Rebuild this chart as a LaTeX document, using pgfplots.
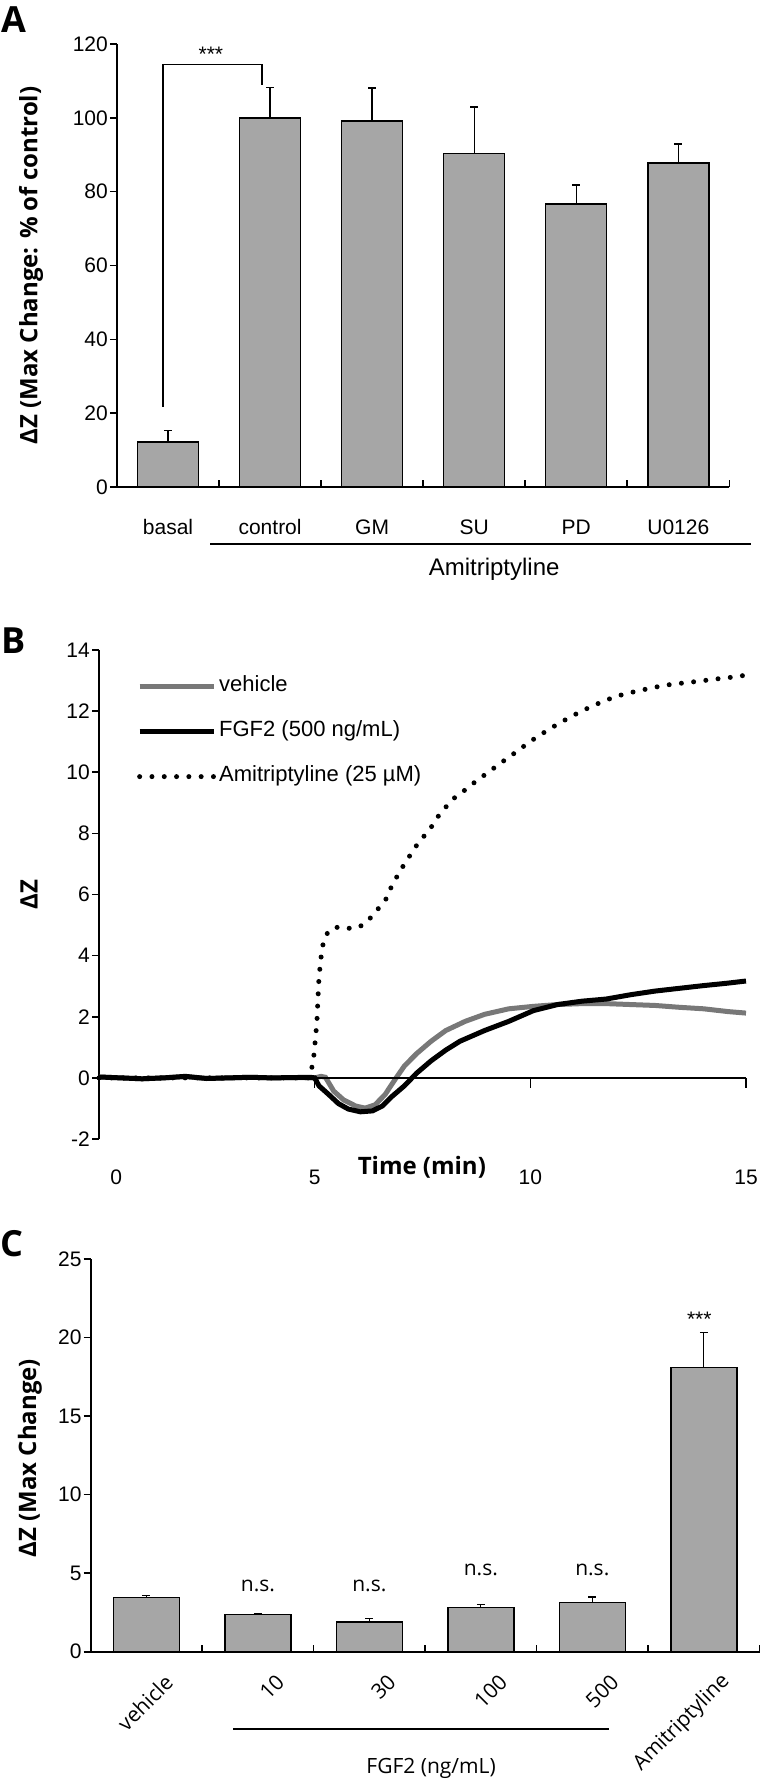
\documentclass[border=0pt]{standalone}
\usepackage{fontspec}
\setmainfont{Liberation Sans}
\newfontfamily\osf{Open Sans}
\usepackage{pgfplots}
\pgfplotsset{compat=1.18}
\definecolor{barg}{RGB}{166,166,166}
\definecolor{vehg}{RGB}{120,120,120}
\newcommand{\tf}{\fontsize{21pt}{25pt}\selectfont}
\newcommand{\lf}{\osf\bfseries\fontsize{24pt}{28pt}\selectfont}
\newcommand{\of}{\osf\fontsize{21pt}{25pt}\selectfont}
\newcommand{\pf}{\osf\bfseries\fontsize{36pt}{40pt}\selectfont}
\newcommand{\gf}{\fontsize{22pt}{26pt}\selectfont}
\pgfplotsset{
  myax/.style={scale only axis, clip=false,
    axis line style={line width=1.6pt},
    tick style={line width=1.6pt, black},
    major tick length=7pt, tick align=outside,
    /pgf/number format/assume math mode=true,
    tick label style={font=\tf},
    yticklabel style={inner sep=0pt, xshift=-2pt},
    axis x line*=bottom, axis y line*=left,
    xtick style={draw=none}},
  mybar/.style={ybar, bar width=#1, fill=barg, draw=black, line width=1.5pt,
    error bars/.cd, y dir=plus, y explicit,
    error bar style={line width=1.3pt, black},
    error mark=-, error mark options={rotate=90, line width=1.3pt, black, mark size=4pt}}
}
\begin{document}
\begin{tikzpicture}[x=1pt,y=1pt]
\useasboundingbox (0,0) rectangle (760,-1784);
% panel letters
\node[font=\pf, anchor=base west, inner sep=0pt] at (1,-33) {A};
\node[font=\pf, anchor=base west, inner sep=0pt] at (1,-653) {B};
\node[font=\pf, anchor=base west, inner sep=0pt] at (0,-1256) {C};

% ---------------- Panel A ----------------
\begin{axis}[myax, at={(117pt,-487pt)}, anchor=south west,
  width=612.3pt, height=443pt,
  xmin=-0.5, xmax=5.5, ymin=0, ymax=120,
  ytick={0,20,...,120},
  xtick={0,...,5}, xticklabels={basal,control,GM,SU,PD,U0126},
  xticklabel style={anchor=base, inner sep=0pt, yshift=-40pt},
  ylabel={ΔZ (Max Change: \% of control)},
  ylabel style={font=\lf, at={(rel axis cs:-0.1405,0.5)}, anchor=center},
  xlabel={Amitriptyline},
  xlabel style={font=\fontsize{24pt}{28pt}\selectfont, at={(rel axis cs:0.616,-0.185)}, anchor=center}]
\addplot[mybar=61pt] coordinates {
 (0,12.2) +- (0,3.2)
 (1,100.0) +- (0,8.2)
 (2,99.2) +- (0,8.9)
 (3,90.4) +- (0,12.5)
 (4,76.7) +- (0,5.1)
 (5,87.7) +- (0,5.2)
};
\pgfplotsinvokeforeach{0.5,1.5,2.5,3.5,4.5,5.5}{\draw[line width=1.6pt] (axis cs:#1,0) -- ++(0pt,7pt);}
\draw[line width=1.3pt] (axis cs:-0.05,21.7) -- (axis cs:-0.05,114.4) -- (axis cs:0.92,114.4) -- (axis cs:0.92,109);
\node[font=\tf, inner sep=0pt] at (axis cs:0.42,117.3) {***};
\draw[line width=1.6pt] (rel axis cs:0.152,-0.1287) -- (rel axis cs:1.035,-0.1287);
\end{axis}

% ---------------- Panel B ----------------
\begin{axis}[myax, at={(99pt,-1139pt)}, anchor=south west,
  width=647pt, height=489pt,
  xmin=0, xmax=15, ymin=-2, ymax=14,
  ytick={-2,0,...,14},
  x axis line style={draw=none},
  xtick={0.4,5,10,15}, xticklabels={0,5,10,15},
  xticklabel style={anchor=base, inner sep=0pt, yshift=-38pt},
  ylabel={ΔZ},
  ylabel style={font=\lf, at={(rel axis cs:-0.1082,0.5)}, anchor=center},
  xlabel={Time (min)},
  xlabel style={font=\lf, at={(rel axis cs:0.499,-0.0583)}, anchor=center},
  legend style={at={(axis cs:0.88,11.33)}, anchor=west, draw=none, fill=none,
    font=\gf, inner sep=0pt, row sep=25pt,
    nodes={inner xsep=3pt, inner ysep=0pt, text height=15pt, text depth=5pt}},
  legend cell align=left,
  legend image code/.code={\draw[#1] (0pt,0pt) -- (74pt,0pt);}]
\addplot[vehg, line width=5pt] coordinates {
 (0,0.03) (0.5,0.0) (1,-0.03) (1.5,0.0) (2,0.04) (2.5,-0.02) (3,0.0) (3.5,0.02) (4,0.0) (4.5,0.01) (5.0,0.0)
 (5.15,0.05) (5.25,0.02) (5.44,-0.43) (5.67,-0.72) (5.95,-0.92) (6.17,-0.99) (6.40,-0.88) (6.63,-0.55)
 (6.85,-0.08) (7.08,0.39) (7.36,0.79) (7.70,1.20) (8.04,1.55) (8.49,1.85) (8.94,2.08) (9.50,2.26)
 (10.07,2.34) (10.63,2.40) (11.20,2.43) (11.76,2.43) (12.32,2.40) (12.89,2.37) (13.45,2.31)
 (14.02,2.26) (14.58,2.17) (15,2.12)};
\addlegendentry{vehicle}
\addplot[black, line width=5pt] coordinates {
 (0,0.03) (0.5,0.0) (1,-0.03) (1.5,0.0) (2,0.05) (2.5,-0.02) (3,0.0) (3.5,0.02) (4,0.0) (4.5,0.01) (4.9,0.02)
 (5.0,0.0) (5.10,-0.26) (5.33,-0.55) (5.55,-0.84) (5.78,-1.02) (6.06,-1.11) (6.34,-1.08) (6.57,-0.92)
 (6.79,-0.61) (7.08,-0.26) (7.36,0.15) (7.70,0.56) (8.04,0.91) (8.37,1.20) (8.94,1.55) (9.50,1.85)
 (10.07,2.20) (10.63,2.40) (11.20,2.51) (11.76,2.58) (12.32,2.72) (12.89,2.84) (13.45,2.93)
 (14.02,3.02) (14.58,3.10) (15,3.17)};
\addlegendentry{FGF2 (500 ng/mL)}
\addplot[black, line width=5pt, line cap=round, dash pattern=on 0pt off 12.3pt] coordinates {
 (0,0) (4.88,0.0) (4.97,0.56) (5.05,1.79) (5.10,3.3) (5.16,4.1) (5.21,4.5) (5.33,4.83) (5.55,4.94)
 (5.89,4.88) (6.12,5.0) (6.34,5.3) (6.51,5.6) (6.68,5.9) (6.79,6.3) (6.93,6.64) (7.08,7.0) (7.22,7.3)
 (7.36,7.6) (7.53,7.9) (7.70,8.2) (7.87,8.57) (8.04,8.86) (8.23,9.15) (8.45,9.38) (8.66,9.62)
 (8.88,9.85) (9.11,10.09) (9.33,10.32) (9.56,10.55) (9.79,10.79) (10.01,11.02) (10.24,11.23)
 (10.46,11.43) (10.74,11.66) (10.97,11.84) (11.20,12.01) (11.48,12.19) (11.70,12.33) (11.99,12.48)
 (12.21,12.57) (12.49,12.66) (12.78,12.75) (13.06,12.83) (13.34,12.89) (13.62,12.93) (13.91,12.98)
 (14.19,13.03) (14.47,13.08) (14.75,13.12) (15,13.18)};
\addlegendentry{Amitriptyline (25 µM)}
\draw[line width=1.6pt] (axis cs:0,0) -- (axis cs:15,0);
\pgfplotsinvokeforeach{5,10,15}{\draw[line width=1.6pt] (axis cs:#1,0) -- ++(0pt,-10pt);}
\end{axis}

% ---------------- Panel C ----------------
\begin{axis}[myax, at={(90.7pt,-1651.7pt)}, anchor=south west,
  width=668.8pt, height=392.7pt,
  xmin=-0.5, xmax=5.5, ymin=0, ymax=25,
  ytick={0,5,...,25},
  xtick={0,...,5}, xticklabels={vehicle,10,30,100,500,Amitriptyline},
  xticklabel style={font=\of, rotate=45, anchor=east, inner sep=0pt, yshift=-30pt, xshift=2pt},
  ylabel={ΔZ (Max Change)},
  ylabel style={font=\lf, at={(rel axis cs:-0.0908,0.493)}, anchor=center},
  xlabel={FGF2 (ng/mL)},
  xlabel style={font=\of, at={(rel axis cs:0.509,-0.296)}, anchor=center}]
\addplot[mybar=66pt] coordinates {
 (0,3.46) +- (0,0.12)
 (1,2.37) +- (0,0.05)
 (2,1.90) +- (0,0.21)
 (3,2.80) +- (0,0.19)
 (4,3.13) +- (0,0.35)
 (5,18.10) +- (0,2.23)
};
\pgfplotsinvokeforeach{0.5,1.5,2.5,3.5,4.5,5.5}{\draw[line width=1.6pt] (axis cs:#1,0) -- ++(0pt,7pt);}
\node[font=\of] at (axis cs:1,4.22) {n.s.};
\node[font=\of] at (axis cs:2,4.22) {n.s.};
\node[font=\of] at (axis cs:3,5.21) {n.s.};
\node[font=\of] at (axis cs:4,5.21) {n.s.};
\node[font=\tf, inner sep=0pt] at (axis cs:4.96,21.15) {***};
\draw[line width=1.6pt] (rel axis cs:0.2128,-0.197) -- (rel axis cs:0.775,-0.197);
\end{axis}
\end{tikzpicture}
\end{document}
